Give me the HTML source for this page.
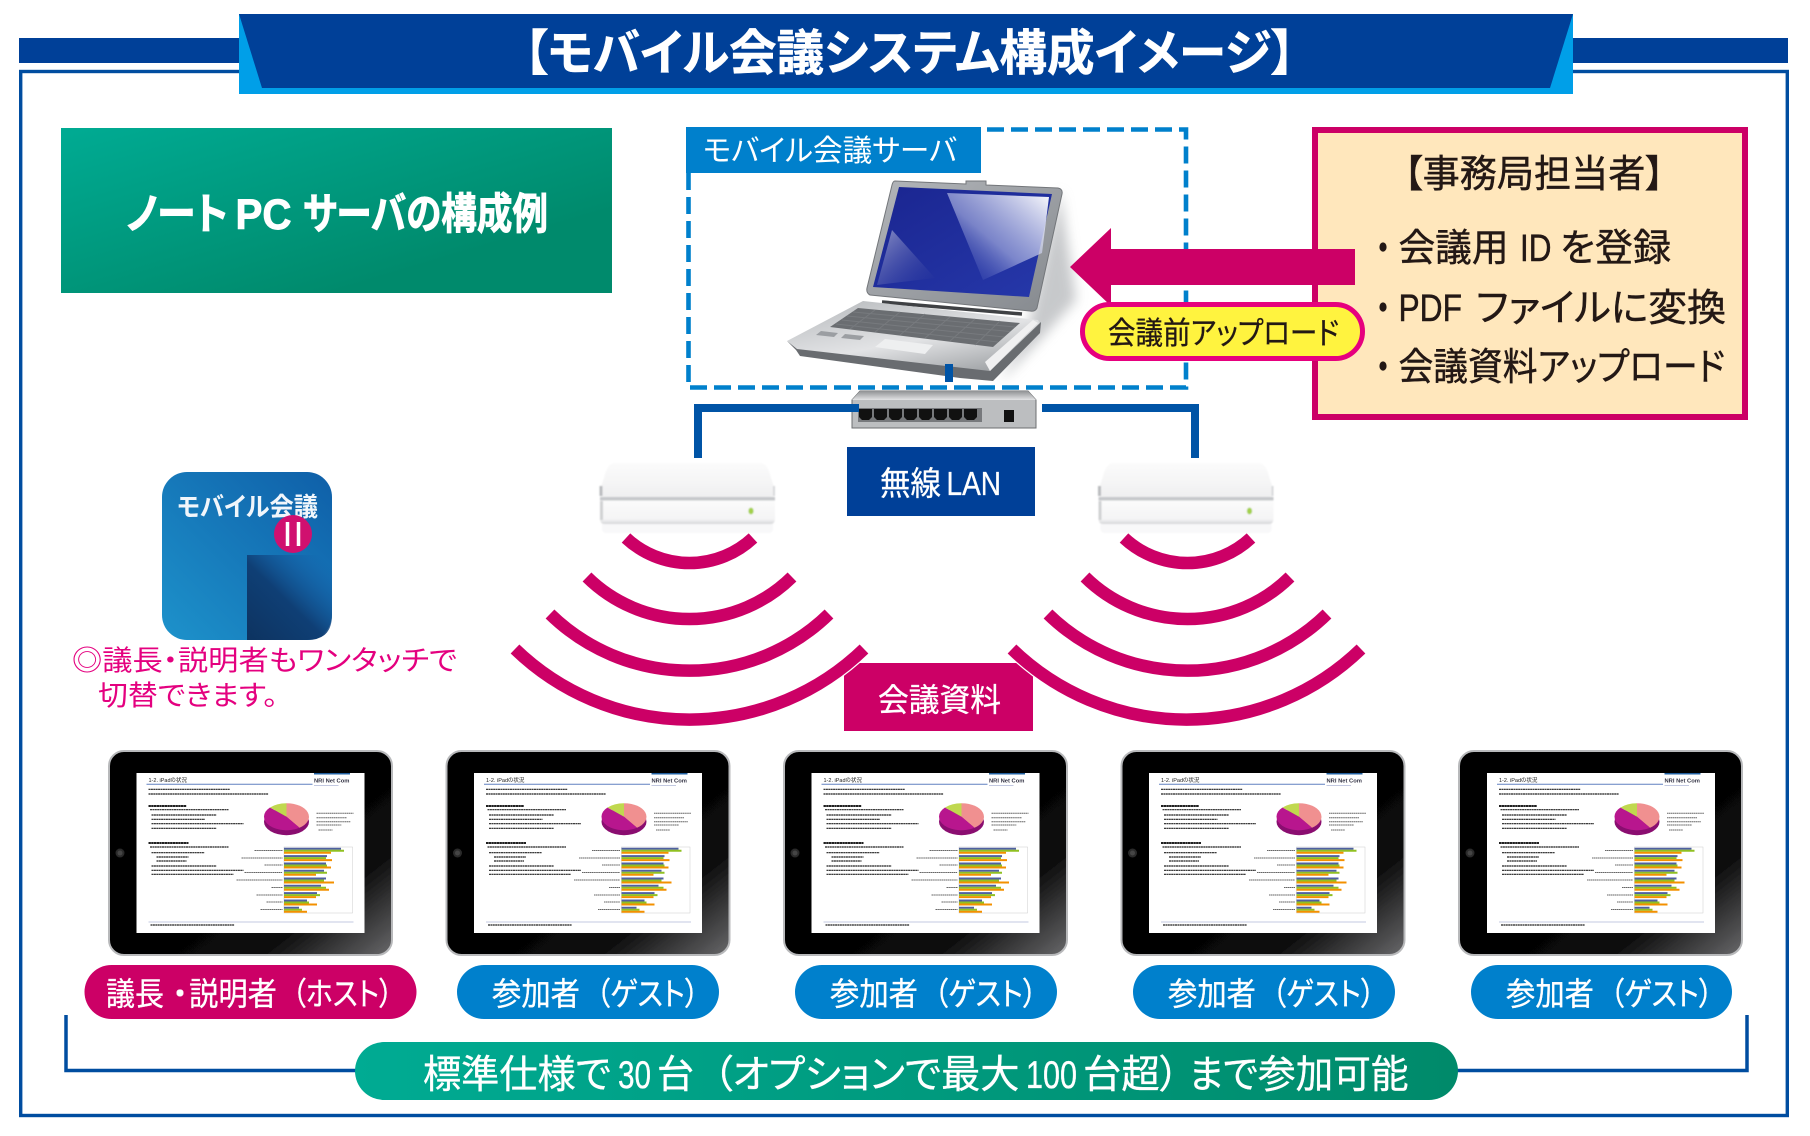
<!DOCTYPE html>
<html lang="ja">
<head>
<meta charset="utf-8">
<title>モバイル会議システム構成イメージ</title>
<style>
html,body{margin:0;padding:0;background:#fff;}
svg{display:block;}
text{font-family:"Liberation Sans","Noto Sans CJK JP",sans-serif;font-feature-settings:"palt";}
</style>
</head>
<body>
<svg xmlns="http://www.w3.org/2000/svg" width="1810" height="1136" viewBox="0 0 1810 1136">
<defs>
<linearGradient id="gGreen" x1="0" y1="0" x2="1" y2="1"><stop offset="0" stop-color="#00ab93"/><stop offset=".75" stop-color="#008a6c"/></linearGradient>
<linearGradient id="gGreenH" x1="0" y1="0" x2="1" y2="0"><stop offset="0" stop-color="#00ab93"/><stop offset="1" stop-color="#008a6a"/></linearGradient>
<linearGradient id="gTab" x1=".35" y1=".4" x2="1" y2="1"><stop offset="0" stop-color="#000"/><stop offset=".6" stop-color="#0a0a0a"/><stop offset="1" stop-color="#68686a"/></linearGradient>
<linearGradient id="gLid" x1="0" y1="0" x2="1" y2="1"><stop offset="0" stop-color="#b3b6ba"/><stop offset="1" stop-color="#85898e"/></linearGradient>
<linearGradient id="gBase" x1="0" y1="0" x2=".6" y2="1"><stop offset="0" stop-color="#b5b8bb"/><stop offset=".6" stop-color="#e2e3e5"/><stop offset="1" stop-color="#a4a7aa"/></linearGradient>
<linearGradient id="gScr" x1="0" y1="0" x2="1" y2="1"><stop offset="0" stop-color="#1a2590"/><stop offset="1" stop-color="#2638aa"/></linearGradient>
<linearGradient id="gRef" x1="1" y1="0" x2="0" y2="1"><stop offset="0" stop-color="#fff" stop-opacity=".98"/><stop offset=".55" stop-color="#b6bde6" stop-opacity=".6"/><stop offset="1" stop-color="#2638aa" stop-opacity="0"/></linearGradient>
<linearGradient id="gRef2" x1="0" y1="0" x2="1" y2="1"><stop offset="0" stop-color="#8e93c8"/><stop offset="1" stop-color="#22309a" stop-opacity=".2"/></linearGradient>
<linearGradient id="gSwT" x1="0" y1="0" x2="0" y2="1"><stop offset="0" stop-color="#8f9193"/><stop offset="1" stop-color="#e2e3e4"/></linearGradient>
<linearGradient id="gRtL" x1="0" y1="0" x2="0" y2="1"><stop offset="0" stop-color="#fbfbfb"/><stop offset="1" stop-color="#f0f0f1"/></linearGradient>
<linearGradient id="gRtB" x1="0" y1="0" x2="0" y2="1"><stop offset="0" stop-color="#fbfbfb"/><stop offset=".8" stop-color="#f4f4f5"/><stop offset="1" stop-color="#d4d5d7"/></linearGradient>
<linearGradient id="gIcon" x1="0" y1="1" x2="1" y2="0"><stop offset="0" stop-color="#1d92cb"/><stop offset="1" stop-color="#0f5fa8"/></linearGradient>
<linearGradient id="gWedge" gradientUnits="userSpaceOnUse" x1="247" y1="640" x2="325" y2="560"><stop offset="0" stop-color="#0d3360"/><stop offset=".5" stop-color="#0f3f75"/><stop offset="1" stop-color="#1558a4" stop-opacity="0"/></linearGradient>
<filter id="soft" x="-5%" y="-5%" width="110%" height="110%"><feGaussianBlur stdDeviation=".35"/></filter>
<filter id="soft2" x="-5%" y="-5%" width="110%" height="110%"><feGaussianBlur stdDeviation=".8"/></filter>
<filter id="shad" x="-30%" y="-30%" width="160%" height="160%"><feGaussianBlur stdDeviation="6"/></filter>

<g id="doc">
  <rect width="228" height="160" fill="#fff"/>
  <rect x="177.500" width="36" height="1.500" fill="#2060a0"/>
  <path d="M10 11.300H176" stroke="#6080c0" stroke-width="1"/>
  <g fill="none" stroke="#222" stroke-width="1.200" stroke-dasharray="2 .4">
    <path d="M12 16.300H93.500M12 21H132M13.500 36.700H92M15 42H80M15 46.300H68.500M15 50.700H107M15 55.300H80M13.500 74H92M15 79.700H68M20 84H52M20 88H50M15 93H80M15 97.300H107M15 101.300H97M14 152H98"/>
  </g>
  <path d="M12 33H50M12 70H52" stroke="#000" stroke-width="1.700" stroke-dasharray="2.400 .3"/>
  <path d="M177.500 12.500H202M12 149H217" stroke="#b0b8d8" stroke-width=".8"/>
  <ellipse cx="150" cy="48.700" rx="22.500" ry="13.500" fill="#8a1070"/>
  <path d="M150 43.700L150 30.200A22.500 13.500 0 0 1 163 54.700Z" fill="#f09090"/>
  <path d="M150 43.700L163 54.700A22.500 13.500 0 0 1 133.500 34.500Z" fill="#b8188e"/>
  <path d="M150 43.700L133.500 34.500A22.500 13.500 0 0 1 150 30.200Z" fill="#c0d850"/>
  <g fill="none" stroke-width="1" stroke="#666" stroke-dasharray="1.500 .4">
    <path d="M180 40.300H217M180 44.700H210M180 48.700H214M180 52H205M182 57H196"/>
    <path d="M118 77.500H146M105 85H146M128 92H146M108 99.500H146M100 107H146M135 114.500H146M120 122H146M130 129H146M124 136.500H146"/>
  </g>
  <rect x="147.500" y="74" width="68.500" height="66" fill="none" stroke="#ccc" stroke-width=".5"/>
  <g fill="none" stroke-width="2">
    <path stroke="#5060a0" d="M147.500 75.800h57M147.500 83.100h43M147.500 90.500h42M147.500 97.800h40M147.500 105.500h42M147.500 112.800h37M147.500 120.100h33M147.500 127.500h23M147.500 134.800h15"/>
    <path stroke="#90c020" d="M147.500 77.800h60M147.500 85.100h42M147.500 92.500h43M147.500 99.800h43M147.500 107.500h40M147.500 114.800h42M147.500 122.100h36M147.500 129.500h25M147.500 136.800h18"/>
    <path stroke="#f39000" d="M147.500 79.800h47M147.500 87.100h48M147.500 94.500h47M147.500 101.800h32M147.500 109.500h50M147.500 116.800h45M147.500 124.100h32M147.500 131.500h33M147.500 138.800h23"/>
  </g>
</g>

<g id="tab">
  <rect x="1" y="1" width="283" height="204" rx="15" fill="url(#gTab)" stroke="#b8b9bb" stroke-width="2"/>
  <circle cx="12" cy="103" r="4.500" fill="#2b2b2b"/>
  <circle cx="12" cy="103" r="2.500" fill="#444"/>
</g>

<g id="router">
  <g filter="url(#soft2)">
  <rect x="602" y="505" width="171" height="28" rx="4" fill="#f5f5f6" opacity=".7"/>
  <path d="M614 463H761Q768 464 771 478L775 490V494Q775 497 770 497H605Q600 497 600 494V490L604 478Q607 464 614 463Z" fill="url(#gRtL)"/>
  <rect x="600" y="497" width="175" height="3.500" fill="#c6c8cb"/>
  <path d="M600 500.500H775V519Q775 524 770 524H605Q600 524 600 519Z" fill="url(#gRtB)"/>
  <path d="M601 486V496" stroke="#b9bbbe" stroke-width="3"/>
  <path d="M601.500 501V520" stroke="#d0d1d3" stroke-width="3"/>
  <path d="M774 486V496" stroke="#d8d9db" stroke-width="2"/>
  <ellipse cx="751" cy="511" rx="2.600" ry="3.400" fill="#a2d04a"/>
  </g>
</g>
</defs>

<!-- frame and header -->
<rect x="20.700" y="71.500" width="1766.600" height="1044" fill="none" stroke="#004da0" stroke-width="3.400"/>
<rect x="19" y="38" width="225" height="25" fill="#004098"/>
<rect x="1568" y="38" width="220" height="25" fill="#004098"/>
<rect x="239" y="14" width="1334" height="80" fill="#009fe8"/>
<path d="M239 14H1573L1550 88H262Z" fill="#004098"/>
<text x="524" y="70" font-size="49" font-weight="700" fill="#fff" stroke="#fff" stroke-width=".5" textLength="771" lengthAdjust="spacingAndGlyphs">【モバイル会議システム構成イメージ】</text>

<!-- green heading -->
<rect x="61" y="128" width="551" height="165" fill="url(#gGreen)"/>
<g font-size="43" font-weight="700" fill="#fff" stroke="#fff" stroke-width=".9">
<text x="126" y="229" textLength="102" lengthAdjust="spacingAndGlyphs">ノート</text>
<text x="235.500" y="229" textLength="56" lengthAdjust="spacingAndGlyphs">PC</text>
<text x="303" y="229" textLength="245" lengthAdjust="spacingAndGlyphs">サーバの構成例</text>
</g>

<!-- info box -->
<rect x="1315" y="130" width="430" height="287" fill="#ffe7bc" stroke="#cc0066" stroke-width="6"/>
<g fill="#231815" stroke="#231815" stroke-width=".45">
<text x="1404" y="187" font-size="38" textLength="260" lengthAdjust="spacingAndGlyphs">【事務局担当者】</text>
<g font-size="38">
<text x="1398.500" y="261" textLength="110" lengthAdjust="spacingAndGlyphs">会議用</text>
<text x="1520" y="261" textLength="31.500" lengthAdjust="spacingAndGlyphs">ID</text>
<text x="1560" y="261" textLength="111" lengthAdjust="spacingAndGlyphs">を登録</text>
<text x="1398.500" y="321" textLength="63.500" lengthAdjust="spacingAndGlyphs">PDF</text>
<text x="1476" y="321" textLength="250" lengthAdjust="spacingAndGlyphs">ファイルに変換</text>
<text x="1398.500" y="380" textLength="326.500" lengthAdjust="spacingAndGlyphs">会議資料アップロード</text>
</g>
<ellipse cx="1383" cy="247" rx="3.600" ry="4.600" stroke="none"/>
<ellipse cx="1383" cy="307" rx="3.600" ry="4.600" stroke="none"/>
<ellipse cx="1383" cy="366" rx="3.600" ry="4.600" stroke="none"/>
</g>

<!-- server dashed box -->
<path d="M688.500 173V387.500H1186V129.500H980" fill="none" stroke="#0080cc" stroke-width="4.600" stroke-dasharray="17 7"/>
<rect x="686" y="127" width="295" height="46" fill="#0080cc"/>
<text x="703" y="161" font-size="30" fill="#fff" textLength="254" lengthAdjust="spacingAndGlyphs">モバイル会議サーバ</text>

<!-- laptop -->
<g>
  <path d="M1060 190L1076 300L1040 340L1000 382L1030 320Z" fill="#9a9da1" opacity=".55" filter="url(#shad)"/>
  <path d="M895 181L966 184V181H986V185L1058 188Q1063 189 1062 194L1037 308Q1035 312 1030 311L870 295Q866 293 867 288L892 185Q893 181 895 181Z" fill="url(#gLid)" stroke="#73767a" stroke-width="1"/>
  <path d="M899 187L1052 194L1029 297L873 287Z" fill="url(#gScr)"/>
  <path d="M892 230L935 278L877 285Z" fill="url(#gRef2)"/>
  <path d="M947 193L1049 197L1042 253L983 280Z" fill="url(#gRef)"/>
  <path d="M882 302L1022 314" stroke="#3f4144" stroke-width="3.500"/>
  <path d="M787 341L863 301L1038 320L1041 326L992 378L800 352Z" fill="url(#gBase)"/>
  <path d="M787 341L797 349L990 371L1041 322L1040 333L993 381L960 378L800 356L796 350Z" fill="#696c70"/>
  <path d="M990 371L1038 323L1033 320L985 362Z" fill="#f0f0f1"/>
  <path d="M858 308L1020 323L993 347L830 327Z" fill="#6a6d71"/>
  <g stroke="#777a7e" stroke-width="1" fill="none">
    <path d="M853 312L1015 327M847 316L1010 331.500M842 320L1004 337M836 324L998 342"/>
    <path d="M875 310L850 329M900 312L875 332M925 314L900 335M950 317L925 338M975 319L950 341M1000 321L975 345"/>
  </g>
  <path d="M885 339L933 345L925 354L875 347Z" fill="#eeeff0"/>
  <path d="M821 331L838 333L834 337L816 335ZM845 334L864 336L860 340L841 338Z" fill="#9b9ea2"/>
</g>
<rect x="945" y="364" width="8" height="18" fill="#0054a6"/>

<!-- switch and lines -->
<path d="M860 391H1028L1036 400V428H852V400Z" fill="#bcbec0" stroke="#6d6f71" stroke-width="1"/>
<path d="M860 391H1028L1036 400H852Z" fill="url(#gSwT)"/>
<rect x="858" y="408" width="124" height="14" fill="#77797c"/>
<g fill="#111">
<path d="M859 409h13v8l-3 3h-7l-3-3zM874 409h13v8l-3 3h-7l-3-3zM889 409h13v8l-3 3h-7l-3-3zM904 409h13v8l-3 3h-7l-3-3zM919 409h13v8l-3 3h-7l-3-3zM934 409h13v8l-3 3h-7l-3-3zM949 409h13v8l-3 3h-7l-3-3zM964 409h13v8l-3 3h-7l-3-3z"/>
<rect x="1004" y="410" width="10" height="12"/>
</g>
<path d="M698 458V408H859" fill="none" stroke="#0054a6" stroke-width="8"/>
<path d="M1042 408H1195V458" fill="none" stroke="#0054a6" stroke-width="8"/>

<!-- arrow and yellow pill -->
<path d="M1070 267L1111 228V249H1355V285H1111V306Z" fill="#cc0066"/>
<rect x="1082.500" y="304.500" width="280" height="54" rx="27" fill="#fff33f" stroke="#e6007e" stroke-width="5"/>
<text x="1108" y="344" font-size="31" fill="#231815" stroke="#231815" stroke-width=".3" textLength="231" lengthAdjust="spacingAndGlyphs">会議前アップロード</text>

<!-- LAN -->
<rect x="847" y="447" width="188" height="69" fill="#004098"/>
<g font-size="33" fill="#fff" stroke="#fff" stroke-width=".3">
<text x="880" y="495" textLength="61" lengthAdjust="spacingAndGlyphs">無線</text>
<text x="946.500" y="495" textLength="54.500" lengthAdjust="spacingAndGlyphs">LAN</text>
</g>

<!-- routers -->
<use href="#router"/>
<use href="#router" x="498.500"/>

<!-- document box + waves -->
<rect x="844" y="663" width="189" height="68" fill="#cc0066"/>
<g fill="none" stroke="#cc0066" stroke-width="12.500">
  <path d="M626 538A93 93 0 0 0 753 538"/>
  <path d="M587 577A146 146 0 0 0 792 577"/>
  <path d="M550 614A200 200 0 0 0 829 614"/>
  <path d="M1124 538A93 93 0 0 0 1251 538"/>
  <path d="M1085 577A146 146 0 0 0 1290 577"/>
  <path d="M1048 614A200 200 0 0 0 1327 614"/>
</g>
<g fill="none">
  <path d="M515 649A251 251 0 0 0 864 649" stroke="#fff" stroke-width="15"/>
  <path d="M1012 649A251 251 0 0 0 1361 649" stroke="#fff" stroke-width="15"/>
  <path d="M515 649A251 251 0 0 0 864 649" stroke="#cc0066" stroke-width="12.500"/>
  <path d="M1012 649A251 251 0 0 0 1361 649" stroke="#cc0066" stroke-width="12.500"/>
</g>
<text x="878" y="711" font-size="32" fill="#fff" stroke="#fff" stroke-width=".3" textLength="123" lengthAdjust="spacingAndGlyphs">会議資料</text>

<!-- app icon -->
<rect x="162" y="472" width="170" height="168" rx="25" fill="url(#gIcon)"/>
<path d="M247 555H332V615Q332 640 307 640H247Z" fill="url(#gWedge)"/>
<text x="177" y="516" font-size="26" font-weight="700" fill="#f1f6fb" textLength="141" lengthAdjust="spacingAndGlyphs">モバイル会議</text>
<circle cx="293" cy="534" r="19" fill="#d0106f"/>
<path d="M287.500 522V546M298.500 522V546" stroke="#fff" stroke-width="3.500"/>
<text x="72" y="670" font-size="28" fill="#e4007f" textLength="385" lengthAdjust="spacingAndGlyphs">◎議長・説明者もワンタッチで</text>
<text x="98" y="705" font-size="28" fill="#e4007f" textLength="180" lengthAdjust="spacingAndGlyphs">切替できます。</text>

<!-- tablets -->
<g filter="url(#soft)">
<g transform="translate(108,750)"><use href="#tab"/></g>
<g transform="translate(445.500,750)"><use href="#tab"/></g>
<g transform="translate(783,750)"><use href="#tab"/></g>
<g transform="translate(1120.500,750)"><use href="#tab"/></g>
<g transform="translate(1458,750)"><use href="#tab"/></g>
</g>

<g filter="url(#soft)">
<g transform="translate(136.500,773)"><use href="#doc"/><text x="12" y="9" font-size="5.500" fill="#222">1-2. iPadの状況</text><text x="177.500" y="9.500" font-size="5.800" font-weight="700" fill="#334">NRI Net Com</text></g>
<g transform="translate(474,773)"><use href="#doc"/><text x="12" y="9" font-size="5.500" fill="#222">1-2. iPadの状況</text><text x="177.500" y="9.500" font-size="5.800" font-weight="700" fill="#334">NRI Net Com</text></g>
<g transform="translate(811.500,773)"><use href="#doc"/><text x="12" y="9" font-size="5.500" fill="#222">1-2. iPadの状況</text><text x="177.500" y="9.500" font-size="5.800" font-weight="700" fill="#334">NRI Net Com</text></g>
<g transform="translate(1149,773)"><use href="#doc"/><text x="12" y="9" font-size="5.500" fill="#222">1-2. iPadの状況</text><text x="177.500" y="9.500" font-size="5.800" font-weight="700" fill="#334">NRI Net Com</text></g>
<g transform="translate(1487,773)"><use href="#doc"/><text x="12" y="9" font-size="5.500" fill="#222">1-2. iPadの状況</text><text x="177.500" y="9.500" font-size="5.800" font-weight="700" fill="#334">NRI Net Com</text></g>
</g>

<!-- pills -->
<rect x="84.500" y="965" width="332" height="54" rx="27" fill="#cc0066"/>
<rect x="457" y="965" width="262" height="54" rx="27" fill="#0080cc"/>
<rect x="795" y="965" width="262" height="54" rx="27" fill="#0080cc"/>
<rect x="1133" y="965" width="262" height="54" rx="27" fill="#0080cc"/>
<rect x="1471" y="965" width="261" height="54" rx="27" fill="#0080cc"/>
<g fill="#fff" stroke="#fff" stroke-width=".3" font-size="32">
<text x="106" y="1005" textLength="58" lengthAdjust="spacingAndGlyphs">議長</text>
<text x="172" y="1005">・</text>
<text x="189" y="1005" textLength="88" lengthAdjust="spacingAndGlyphs">説明者</text>
<text x="292" y="1005" textLength="101" lengthAdjust="spacingAndGlyphs">（ホスト）</text>
<text x="492" y="1005" textLength="88" lengthAdjust="spacingAndGlyphs">参加者</text>
<text x="596" y="1005" textLength="103" lengthAdjust="spacingAndGlyphs">（ゲスト）</text>
<text x="830" y="1005" textLength="88" lengthAdjust="spacingAndGlyphs">参加者</text>
<text x="934" y="1005" textLength="103" lengthAdjust="spacingAndGlyphs">（ゲスト）</text>
<text x="1168" y="1005" textLength="88" lengthAdjust="spacingAndGlyphs">参加者</text>
<text x="1272" y="1005" textLength="103" lengthAdjust="spacingAndGlyphs">（ゲスト）</text>
<text x="1506" y="1005" textLength="88" lengthAdjust="spacingAndGlyphs">参加者</text>
<text x="1610" y="1005" textLength="103" lengthAdjust="spacingAndGlyphs">（ゲスト）</text>
</g>

<!-- bracket and bottom pill -->
<path d="M66 1015V1070.500H1747V1015" fill="none" stroke="#004da0" stroke-width="3.500"/>
<rect x="355" y="1042" width="1103" height="58" rx="29" fill="url(#gGreenH)"/>
<g font-size="39" fill="#fff" stroke="#fff" stroke-width=".35">
<text x="423" y="1088" textLength="188" lengthAdjust="spacingAndGlyphs">標準仕様で</text>
<text x="618" y="1088" textLength="33" lengthAdjust="spacingAndGlyphs">30</text>
<text x="657" y="1088" textLength="37" lengthAdjust="spacingAndGlyphs">台</text>
<text x="713" y="1088" textLength="306.500" lengthAdjust="spacingAndGlyphs">（オプションで最大</text>
<text x="1026" y="1088" textLength="51" lengthAdjust="spacingAndGlyphs">100</text>
<text x="1083" y="1088" textLength="96" lengthAdjust="spacingAndGlyphs">台超）</text>
<text x="1188.500" y="1088" textLength="220" lengthAdjust="spacingAndGlyphs">まで参加可能</text>
</g>
</svg>
</body>
</html>
